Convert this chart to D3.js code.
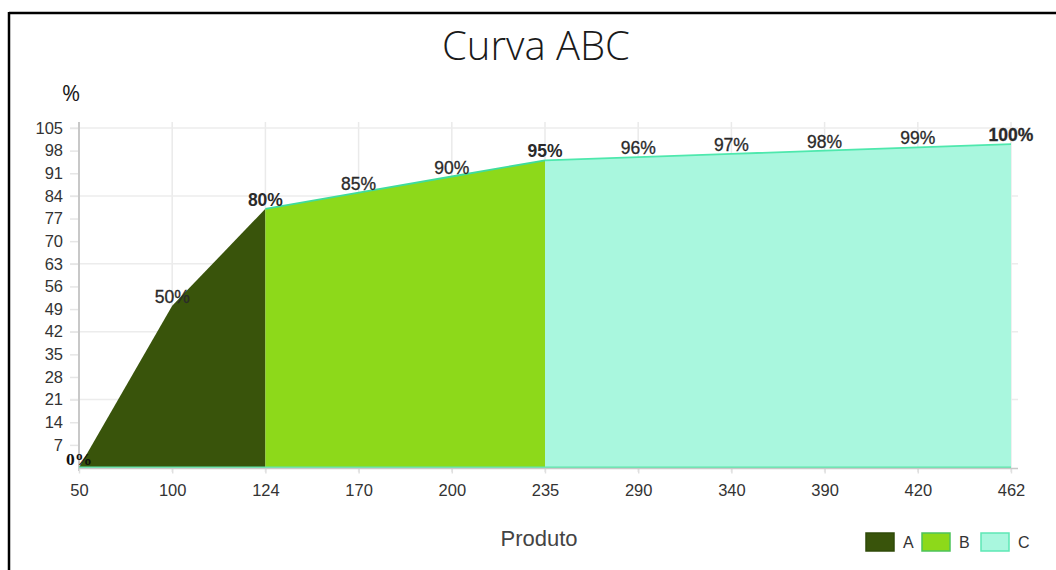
<!DOCTYPE html>
<html><head><meta charset="utf-8">
<script src="https://cdn.jsdelivr.net/npm/d3@7"></script>
<style>html,body{margin:0;padding:0;background:#fff;}svg{display:block;}</style>
</head><body>
<svg id="c" width="1056" height="570"></svg>
<script>
const categories = ["50","100","124","170","200","235","290","340","390","420","462"];
const seriesA = [0,50,80,null,null,null,null,null,null,null,null];
const seriesB = [null,null,80,85,90,95,null,null,null,null,null];
const seriesC = [null,null,null,null,null,95,96,97,98,99,100];
const yTicks = [7,14,21,28,35,42,49,56,63,70,77,84,91,98,105];
const yGrid = [21,42,63,84,105];
const seriesNames = ["A","B","C"];
const fills = ["#39540b","#8dd91a","#a9f7de"];
const strokes = ["#39540b","#3fdc9c","#4ee8ad"];
const legendStrokes = ["#2f4a08","#4cc35a","#5de8b5"];
const title = "Curva ABC";

const svg = d3.select("#c");
const x = d3.scalePoint().domain(categories).range([79, 1011]);
const y = d3.scaleLinear().domain([0,105]).range([467.5, 128]);

// frame
svg.append("line").attr("x1",9).attr("x2",1056).attr("y1",13).attr("y2",13).attr("stroke","#000").attr("stroke-width",2.5);
svg.append("line").attr("x1",9).attr("x2",9).attr("y1",12).attr("y2",570).attr("stroke","#000").attr("stroke-width",2.5);

// title
svg.append("text").attr("x",536).attr("y",60).attr("text-anchor","middle")
  .attr("font-family","Open Sans").attr("font-weight",300).attr("font-size",40).attr("fill","#1a1a1a").text(title);
svg.append("text").attr("x",71).attr("y",101).attr("text-anchor","middle")
  .attr("font-family","Open Sans").attr("font-size",22).attr("fill","#1a1a1a").text("%");

// grid
const g = svg.append("g");
g.selectAll(".vg").data(categories.slice(1)).enter().append("line")
  .attr("x1",d=>x(d)).attr("x2",d=>x(d)).attr("y1",122).attr("y2",472)
  .attr("stroke","#eaeaea").attr("stroke-width",1.5);
g.selectAll(".hg").data(yGrid).enter().append("line")
  .attr("x1",70).attr("x2",1018).attr("y1",d=>y(d)).attr("y2",d=>y(d))
  .attr("stroke","#ececec").attr("stroke-width",1.5);

// y axis
const yAxis = d3.axisLeft(y).tickValues(yTicks).tickSize(9).tickPadding(7);
const ya = svg.append("g").attr("transform","translate(79,0)").call(yAxis);
ya.select(".domain").remove();
ya.selectAll(".tick line").attr("stroke","#e6e6e6").attr("stroke-width",1.5);
ya.selectAll("text").attr("font-family","Liberation Sans, Arial").attr("font-size",16.5).attr("fill","#333");
svg.append("line").attr("x1",79).attr("x2",79).attr("y1",122).attr("y2",471).attr("stroke","#c8c8c8").attr("stroke-width",2);

// areas
const allSeries = [seriesA, seriesB, seriesC];
allSeries.forEach((s,i)=>{
  const pts = categories.map((c,j)=>({c, v:s[j]})).filter(p=>p.v!==null);
  const area = d3.area().x(p=>x(p.c)).y0(y(0)).y1(p=>y(p.v));
  svg.append("path").attr("d",area(pts)).attr("fill",fills[i]);
});
allSeries.forEach((s,i)=>{
  if(i===0) return;
  const pts = categories.map((c,j)=>({c, v:s[j]})).filter(p=>p.v!==null);
  const line = d3.line().x(p=>x(p.c)).y(p=>y(p.v));
  svg.append("path").attr("d",line(pts)).attr("fill","none").attr("stroke",strokes[i]).attr("stroke-width",1.8);
});
// baseline
svg.append("line").attr("x1",x(categories[0])).attr("x2",x(categories[categories.length-1]))
  .attr("y1",y(0)).attr("y2",y(0)).attr("stroke","#5ce8ab").attr("stroke-width",2);

// x axis
const xAxis = d3.axisBottom(x).tickSize(5).tickPadding(11);
const xa = svg.append("g").attr("transform",`translate(0,${y(0)+1})`).call(xAxis);
xa.select(".domain").remove();
xa.selectAll(".tick line").attr("stroke","#e0e0e0").attr("stroke-width",1.5);
xa.selectAll("text").attr("font-family","Liberation Sans, Arial").attr("font-size",16.5).attr("fill","#333");
svg.append("line").attr("x1",79).attr("x2",1018).attr("y1",y(0)+1).attr("y2",y(0)+1).attr("stroke","#c8c8c8").attr("stroke-width",1.5);

// labels
const labelData = [];
categories.forEach((c,j)=>{
  const vals = allSeries.map(s=>s[j]).filter(v=>v!==null);
  labelData.push({c, v:vals[0], n:vals.length});
});
svg.selectAll(".lbl").data(labelData).enter().append("text")
  .attr("x",d=>x(d.c)).attr("y",d=>y(d.v)-3).attr("text-anchor","middle")
  .attr("font-family",d=>d.v===0?"Liberation Serif, Times New Roman":"Liberation Sans, Arial")
  .attr("font-weight",d=>(d.n>1||d.v===0||d.c===categories[categories.length-1])?"bold":"normal")
  .attr("font-size",17.5).attr("fill",d=>d.v===0?"#111":"#2a2a2a")
  .attr("stroke",d=>(d.n>1||d.v===0)?"none":"#2a2a2a").attr("stroke-width",0.3)
  .text(d=>d.v+"%");

// x title
svg.append("text").attr("x",539).attr("y",546).attr("text-anchor","middle")
  .attr("font-family","Liberation Sans, Arial").attr("font-size",22).attr("fill","#444").text("Produto");

// legend
const lx = [866,922,981];
seriesNames.forEach((n,i)=>{
  svg.append("rect").attr("x",lx[i]).attr("y",533).attr("width",28).attr("height",18)
    .attr("fill",fills[i]).attr("stroke",legendStrokes[i]).attr("stroke-width",1.5);
  svg.append("text").attr("x",lx[i]+37).attr("y",548).attr("font-family","Liberation Sans, Arial")
    .attr("font-size",16).attr("fill","#333").text(n);
});
</script>
</body></html>
